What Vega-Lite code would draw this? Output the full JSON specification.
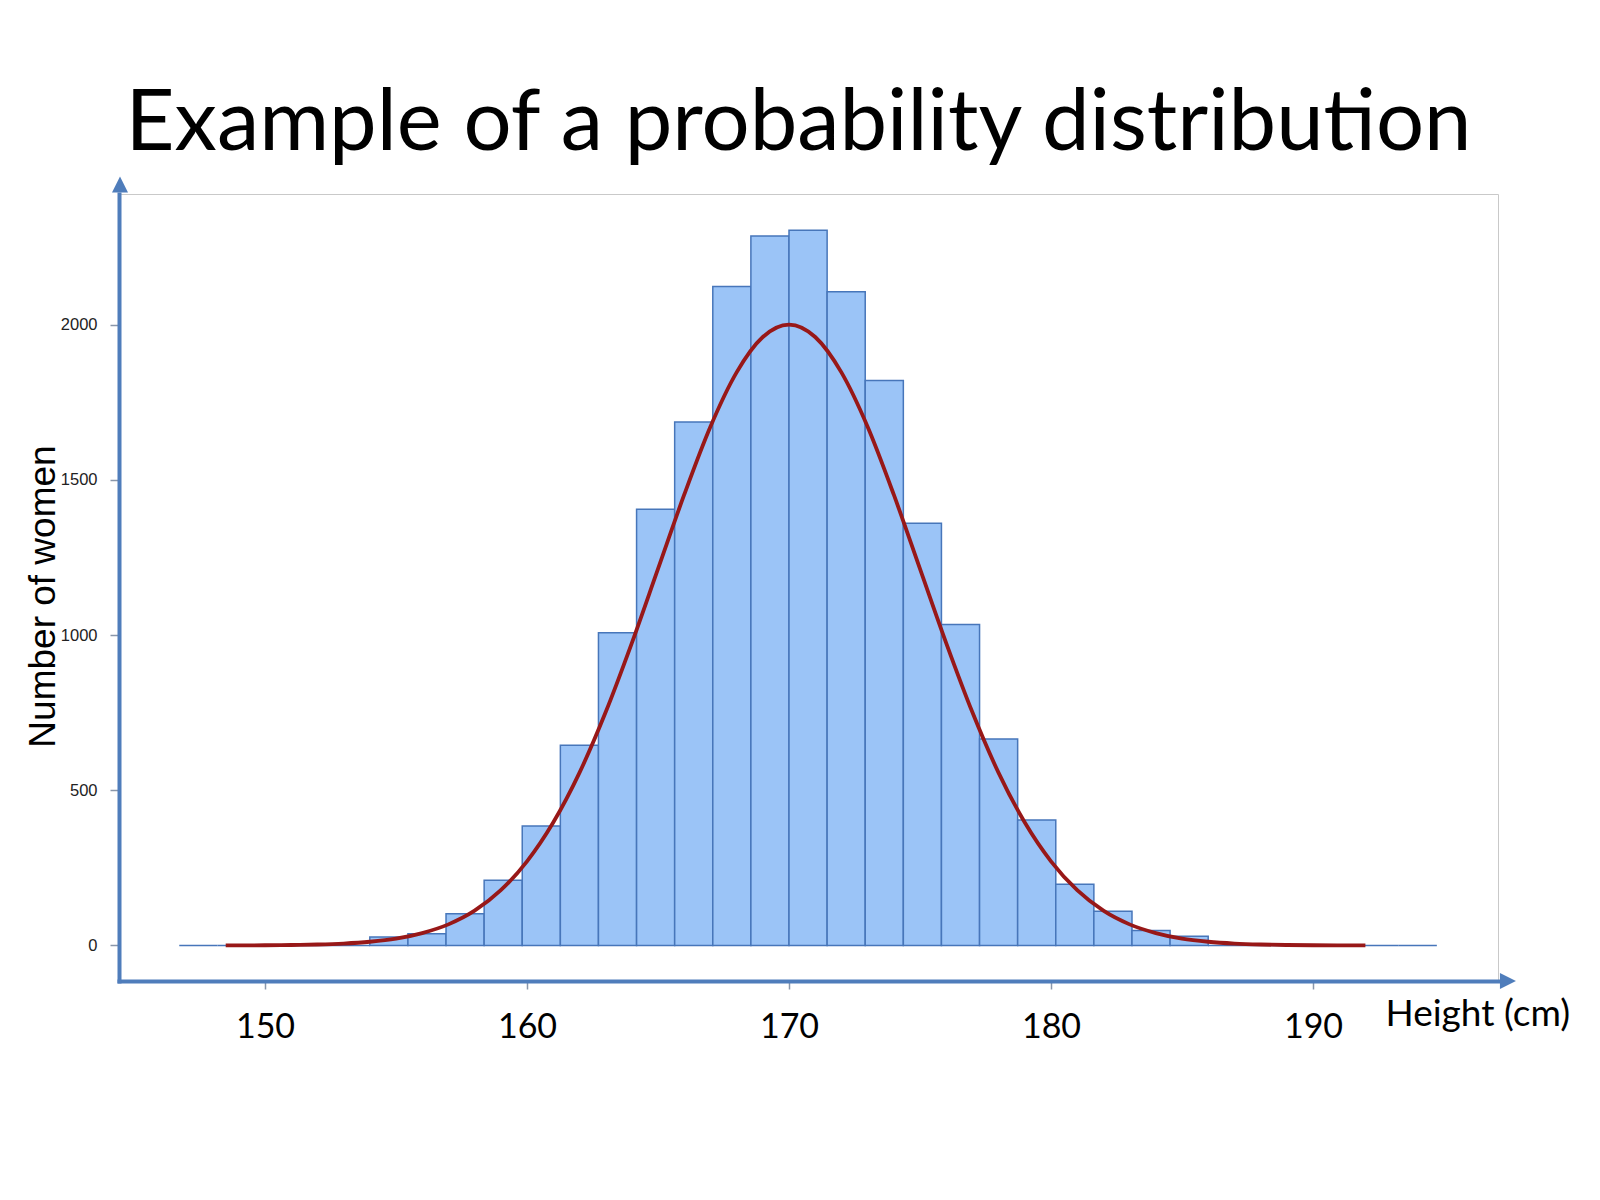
{
  "$schema": "https://vega.github.io/schema/vega-lite/v6.json",
  "width": 1379,
  "height": 787,
  "autosize": {"type": "none"},
  "padding": {"left": 119, "top": 194, "right": 102, "bottom": 219},
  "background": "white",
  "title": {
    "text": "Example of a probability distribution",
    "font": "Lato",
    "fontSize": 85,
    "fontWeight": "normal",
    "color": "black",
    "anchor": "middle",
    "frame": "group",
    "baseline": "alphabetic",
    "offset": 43,
    "dx": -10,
    "dy": 101
  },
  "config": {"view": {"stroke": "#c9c9c9", "strokeWidth": 1}},
  "datasets": {
    "bins": [
      {"bin_start": 146.727, "bin_end": 148.182, "count": 0},
      {"bin_start": 148.182, "bin_end": 149.636, "count": 0},
      {"bin_start": 149.636, "bin_end": 151.091, "count": 0},
      {"bin_start": 151.091, "bin_end": 152.545, "count": 0},
      {"bin_start": 152.545, "bin_end": 154.0, "count": 0},
      {"bin_start": 154.0, "bin_end": 155.455, "count": 27},
      {"bin_start": 155.455, "bin_end": 156.909, "count": 38},
      {"bin_start": 156.909, "bin_end": 158.364, "count": 102},
      {"bin_start": 158.364, "bin_end": 159.818, "count": 210},
      {"bin_start": 159.818, "bin_end": 161.273, "count": 385},
      {"bin_start": 161.273, "bin_end": 162.727, "count": 645},
      {"bin_start": 162.727, "bin_end": 164.182, "count": 1007},
      {"bin_start": 164.182, "bin_end": 165.636, "count": 1405},
      {"bin_start": 165.636, "bin_end": 167.091, "count": 1686},
      {"bin_start": 167.091, "bin_end": 168.545, "count": 2123},
      {"bin_start": 168.545, "bin_end": 170.0, "count": 2285},
      {"bin_start": 170.0, "bin_end": 171.455, "count": 2304},
      {"bin_start": 171.455, "bin_end": 172.909, "count": 2106},
      {"bin_start": 172.909, "bin_end": 174.364, "count": 1820},
      {"bin_start": 174.364, "bin_end": 175.818, "count": 1360},
      {"bin_start": 175.818, "bin_end": 177.273, "count": 1034},
      {"bin_start": 177.273, "bin_end": 178.727, "count": 665},
      {"bin_start": 178.727, "bin_end": 180.182, "count": 404},
      {"bin_start": 180.182, "bin_end": 181.636, "count": 197},
      {"bin_start": 181.636, "bin_end": 183.091, "count": 110},
      {"bin_start": 183.091, "bin_end": 184.545, "count": 48},
      {"bin_start": 184.545, "bin_end": 186.0, "count": 30},
      {"bin_start": 186.0, "bin_end": 187.455, "count": 0},
      {"bin_start": 187.455, "bin_end": 188.909, "count": 0},
      {"bin_start": 188.909, "bin_end": 190.364, "count": 0},
      {"bin_start": 190.364, "bin_end": 191.818, "count": 0},
      {"bin_start": 191.818, "bin_end": 193.273, "count": 0},
      {"bin_start": 193.273, "bin_end": 194.727, "count": 0}
    ],
    "curve": [
      {"height": 148.5, "women": 0.2},
      {"height": 149, "women": 0.3},
      {"height": 150, "women": 0.7},
      {"height": 151, "women": 1.5},
      {"height": 152, "women": 3.1},
      {"height": 153, "women": 6.2},
      {"height": 154, "women": 12},
      {"height": 155, "women": 22},
      {"height": 156, "women": 40},
      {"height": 157, "women": 68},
      {"height": 158, "women": 112},
      {"height": 159, "women": 178},
      {"height": 160, "women": 271},
      {"height": 161, "women": 396},
      {"height": 162, "women": 556},
      {"height": 163, "women": 751},
      {"height": 164, "women": 974},
      {"height": 165, "women": 1213},
      {"height": 166, "women": 1452},
      {"height": 167, "women": 1671},
      {"height": 168, "women": 1846},
      {"height": 169, "women": 1960},
      {"height": 170, "women": 2000},
      {"height": 171, "women": 1960},
      {"height": 172, "women": 1846},
      {"height": 173, "women": 1671},
      {"height": 174, "women": 1452},
      {"height": 175, "women": 1213},
      {"height": 176, "women": 974},
      {"height": 177, "women": 751},
      {"height": 178, "women": 556},
      {"height": 179, "women": 396},
      {"height": 180, "women": 271},
      {"height": 181, "women": 178},
      {"height": 182, "women": 112},
      {"height": 183, "women": 68},
      {"height": 184, "women": 40},
      {"height": 185, "women": 22},
      {"height": 186, "women": 12},
      {"height": 187, "women": 6.2},
      {"height": 188, "women": 3.1},
      {"height": 189, "women": 1.5},
      {"height": 190, "women": 0.7},
      {"height": 191, "women": 0.3},
      {"height": 192, "women": 0.15}
    ]
  },
  "layer": [
    {
      "data": {"name": "bins"},
      "mark": {"type": "rect", "fill": "#9bc4f7", "stroke": "#4776ba", "strokeWidth": 1.5},
      "encoding": {
        "x": {
          "field": "bin_start",
          "type": "quantitative",
          "scale": {"domain": [144.427, 197.061], "nice": false, "zero": false},
          "axis": {
            "values": [150, 160, 170, 180, 190],
            "title": "Height (cm)",
            "grid": false,
            "domainColor": "#4f7dbb",
            "domainWidth": 4,
            "domainCap": "square",
            "tickColor": "#8a97aa",
            "tickSize": 8,
            "tickWidth": 1.5,
            "labelFont": "Lato",
            "labelFontSize": 34,
            "labelColor": "black",
            "labelBaseline": "alphabetic",
            "labelPadding": 48,
            "labelFlush": false,
            "labelOverlap": false,
            "titleFont": "Lato",
            "titleFontSize": 37,
            "titleFontWeight": "normal",
            "titleColor": "black",
            "titleAnchor": null,
            "titleAlign": "left",
            "titleBaseline": "alphabetic",
            "titleX": 1266,
            "titleY": 44
          }
        },
        "x2": {"field": "bin_end"},
        "y": {
          "field": "count",
          "type": "quantitative",
          "scale": {"domain": [-114.4, 2420.6], "nice": false, "zero": false},
          "axis": {
            "values": [0, 500, 1000, 1500, 2000],
            "format": "d",
            "title": "Number of women",
            "grid": false,
            "domainColor": "#4f7dbb",
            "domainWidth": 4,
            "domainCap": "square",
            "tickColor": "#8a97aa",
            "tickSize": 9,
            "tickWidth": 1.5,
            "labelFont": "Liberation Sans",
            "labelFontSize": 16.5,
            "labelColor": "#222222",
            "labelPadding": 13,
            "titleFont": "Liberation Sans",
            "titleFontSize": 37,
            "titleFontWeight": "normal",
            "titleColor": "black",
            "titleAngle": 270,
            "titleAnchor": null,
            "titleAlign": "center",
            "titleBaseline": "alphabetic",
            "titleX": -65,
            "titleY": 402
          }
        },
        "y2": {"datum": 0}
      }
    },
    {
      "data": {"name": "curve"},
      "mark": {"type": "line", "color": "#981818", "strokeWidth": 3.8, "interpolate": "monotone"},
      "encoding": {
        "x": {"field": "height", "type": "quantitative"},
        "y": {"field": "women", "type": "quantitative"}
      }
    },
    {
      "data": {"values": [{}]},
      "mark": {"type": "point", "filled": true, "opacity": 1, "color": "#4f7dbb", "size": 256, "shape": "M0,-1L-1,1L1,1Z"},
      "encoding": {
        "x": {"datum": 144.465, "type": "quantitative"},
        "y": {"datum": 2451, "type": "quantitative"}
      }
    },
    {
      "data": {"values": [{}]},
      "mark": {"type": "point", "filled": true, "opacity": 1, "color": "#4f7dbb", "size": 256, "shape": "M1,0L-1,-1L-1,1Z"},
      "encoding": {
        "x": {"datum": 197.44, "type": "quantitative"},
        "y": {"datum": -114.4, "type": "quantitative"}
      }
    }
  ]
}
